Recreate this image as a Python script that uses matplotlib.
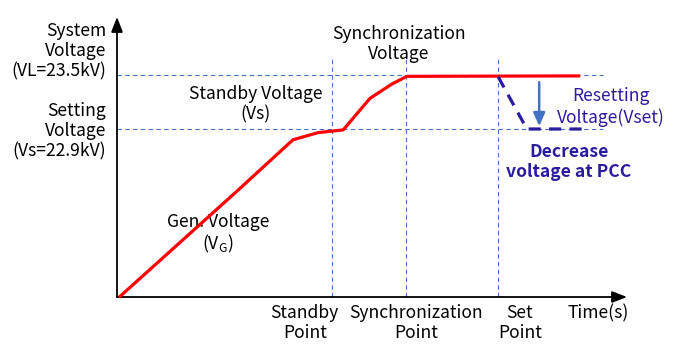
import matplotlib
matplotlib.use("Agg")
import matplotlib.pyplot as plt

# ---- data (time in arbitrary units, voltage in kV) ----
gen_t = [0.4, 23.2, 34.3, 39.2, 44.1, 49.3, 53.6, 56.5, 90.3]
gen_v = [21.03, 22.20, 22.78, 22.86, 22.89, 23.24, 23.40, 23.485, 23.49]
reset_t = [74.3, 79.9, 91.2]
reset_v = [23.48, 22.90, 22.90]
VL = 23.5
VS = 22.9
event_t = [41.9, 56.3, 74.3]
event_labels = ["Standby\nPoint", "Synchronization\nPoint", "Set\nPoint"]
event_label_x = [36.6, 58.3, 78.5]

plt.rcParams['font.family'] = ['Noto Sans CJK KR', 'DejaVu Sans']

fig = plt.figure(figsize=(6.73, 3.49), dpi=100)
ax = fig.add_axes([0, 0, 1, 1])
# pixel mapping: x px = 117 + 5.13*t ; y px = 75 + 90*(23.5 - v)
ax.set_xlim(-117 / 5.13, (673 - 117) / 5.13)
ax.set_ylim(23.5 - (349 - 75) / 90, 23.5 + 75 / 90)
ax.axis('off')

v0 = 23.5 - (297 - 75) / 90     # axis origin
vtop = 23.5 + (75 - 17) / 90    # arrow tip
tend = (627 - 117) / 5.13

blue = '#4472C4'
navy = '#2B1C9E'

# reference dashed lines
for v in (VL, VS):
    ax.plot([0, 94.7], [v, v], color=blue, lw=0.8, dashes=(4, 3))
for t, top in zip(event_t, [23.7, 23.7, 23.68]):
    ax.plot([t, t], [v0, top], color=blue, lw=0.8, dashes=(4, 3))

# axes with arrows
ax.annotate('', xy=(0, vtop), xytext=(0, v0),
            arrowprops=dict(arrowstyle='-|>,head_length=0.9,head_width=0.35',
                            color='black', lw=1.3, shrinkA=0, shrinkB=0))
ax.annotate('', xy=(tend, v0), xytext=(0, v0),
            arrowprops=dict(arrowstyle='-|>,head_length=0.9,head_width=0.35',
                            color='black', lw=1.3, shrinkA=0, shrinkB=0))

# curves
ax.plot(gen_t, gen_v, color='#FF0000', lw=2.3, solid_capstyle='butt', zorder=5)
ax.plot(reset_t, reset_v, color=navy, lw=2.3, dashes=(3.8, 2.6), zorder=5)

# blue arrow
ax.annotate('', xy=(82.3, 22.93), xytext=(82.3, 23.42),
            arrowprops=dict(arrowstyle='-|>,head_length=0.8,head_width=0.35',
                            color=blue, lw=1.8, shrinkA=0, shrinkB=0))

fs = 12.6
ls = 1.16
def px(x, y):
    return ((x - 117) / 5.13, 23.5 - (y - 75) / 90)

ax.text(*px(106, 51), "System\nVoltage\n(VL=23.5kV)", ha='right', va='center',
        fontsize=fs, linespacing=ls)
ax.text(*px(106, 131), "Setting\nVoltage\n(Vs=22.9kV)", ha='right', va='center',
        fontsize=fs, linespacing=ls)
ax.text(*px(256, 104), "Standby Voltage\n(Vs)", ha='center', va='center',
        fontsize=fs, linespacing=ls)
ax.text(*px(399, 44), "Synchronization\nVoltage", ha='center', va='center',
        fontsize=fs, linespacing=ls)
ax.text(*px(218, 234), "Gen. Voltage\n(V$_\\mathregular{G}$)", ha='center', va='center',
        fontsize=fs, linespacing=ls)
ax.text(*px(611, 107), "Resetting\nVoltage(Vset)", ha='center', va='center',
        fontsize=fs, linespacing=ls, color=navy)
ax.text(*px(569, 162), "Decrease\nvoltage at PCC", ha='center', va='center',
        fontsize=fs, linespacing=ls, color=navy, fontweight='bold')
for lx, lab in zip(event_label_x, event_labels):
    ax.text(lx, 23.5 - (323 - 75) / 90, lab, ha='center', va='center',
            fontsize=fs, linespacing=ls)
ax.text(*px(598, 313), "Time(s)", ha='center', va='center', fontsize=fs)

fig.savefig('out.png', dpi=100)
